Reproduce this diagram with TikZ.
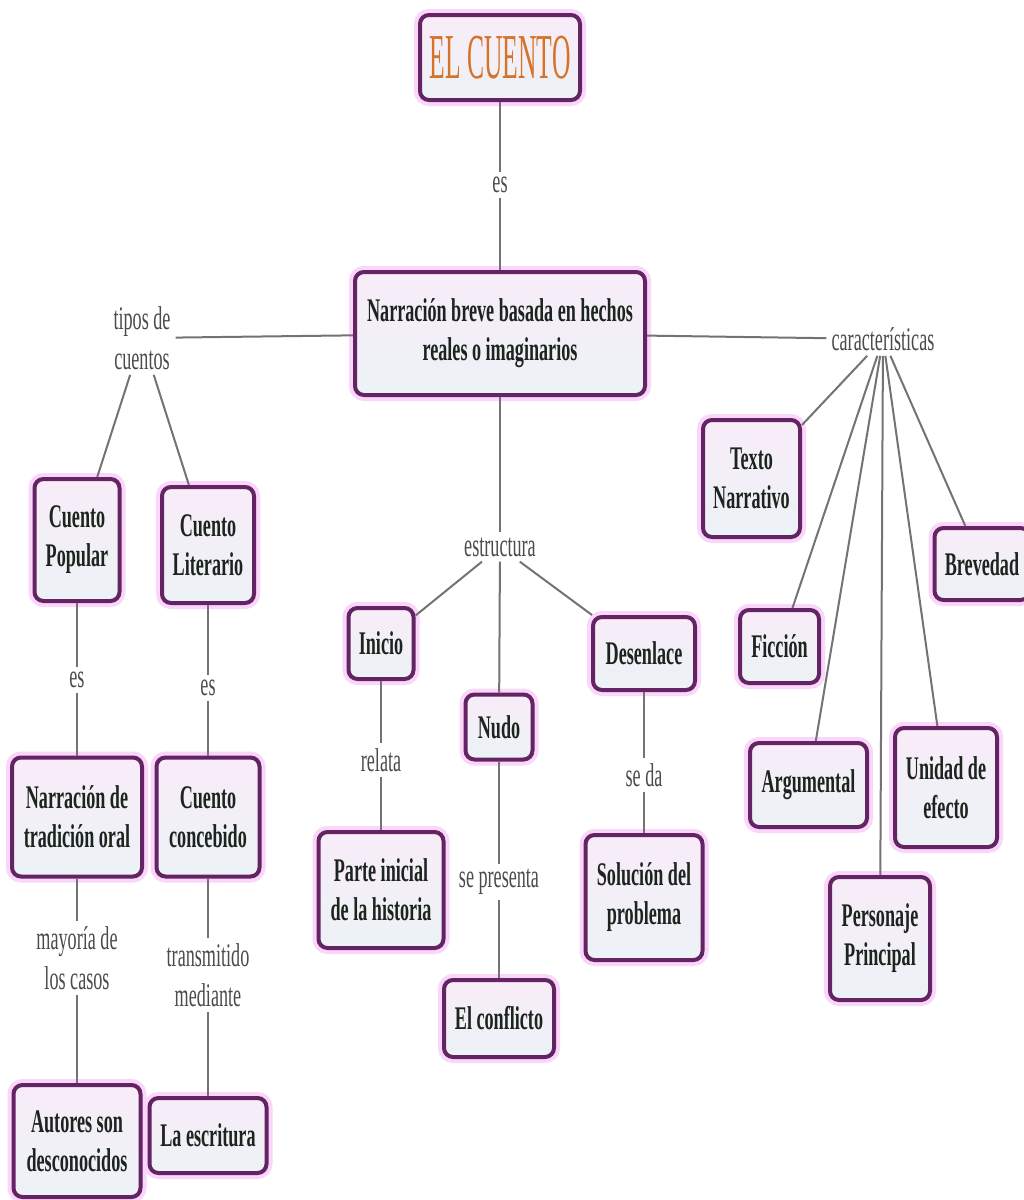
\documentclass[tikz,border=0pt]{standalone}
\usepackage{fontspec}
\setmainfont{Liberation Serif}[FakeStretch=0.55]
\newfontfamily\titlefont{Liberation Serif}[FakeStretch=0.4]
\definecolor{boxborder}{RGB}{100,36,100}
\definecolor{glow}{RGB}{250,215,250}
\definecolor{boxtop}{RGB}{248,236,248}
\definecolor{boxbot}{RGB}{236,242,246}
\definecolor{boxtext}{RGB}{28,36,30}
\definecolor{linkgray}{RGB}{75,75,75}
\definecolor{linegray}{RGB}{115,115,115}
\definecolor{titleorange}{RGB}{215,115,40}
\tikzset{
  concept/.style={draw=boxborder, line width=4pt, rounded corners=9pt,
    top color=boxtop, bottom color=boxbot,
    preaction={draw=glow, line width=12pt},
    text=boxtext, font=\fontsize{33}{39}\selectfont\bfseries,
    align=center, inner sep=0pt},
  linklabel/.style={text=linkgray, font=\fontsize{33}{40}\selectfont,
    align=center, inner sep=5pt},
  conn/.style={draw=linegray, line width=2pt},
}
\begin{document}
\begin{tikzpicture}[x=1pt,y=-1pt]
\fill[white] (0,0) rectangle (1024,1200);
\useasboundingbox (0,0) rectangle (1024,1200);

% concepts
\node[concept, minimum width=160pt, minimum height=85pt,
  font=\titlefont\fontsize{64}{64}\selectfont, text=titleorange] (cuento) at (500,57.5) {EL CUENTO};
\node[concept, minimum width=290pt, minimum height=123pt] (main) at (500,333.5)
  {Narración breve basada en hechos\\reales o imaginarios};

\node[concept, minimum width=85pt, minimum height=122pt] (popular) at (77,540) {Cuento\\Popular};
\node[concept, minimum width=92pt, minimum height=116pt] (literario) at (208,545) {Cuento\\Literario};
\node[concept, minimum width=130pt, minimum height=119pt] (tradicion) at (77,817) {Narración de\\tradición oral};
\node[concept, minimum width=103pt, minimum height=119pt] (concebido) at (208,817) {Cuento\\concebido};
\node[concept, minimum width=127pt, minimum height=112pt] (autores) at (77,1141) {Autores son\\desconocidos};
\node[concept, minimum width=117pt, minimum height=75pt] (escritura) at (208,1135.5) {La escritura};

\node[concept, minimum width=65pt, minimum height=71pt] (inicio) at (381,643.5) {Inicio};
\node[concept, minimum width=67pt, minimum height=65pt] (nudo) at (499,727) {Nudo};
\node[concept, minimum width=102pt, minimum height=73pt] (desenlace) at (644,653.5) {Desenlace};
\node[concept, minimum width=125pt, minimum height=116pt] (parte) at (381,890) {Parte inicial\\de la historia};
\node[concept, minimum width=110pt, minimum height=77pt] (conflicto) at (499,1018.5) {El conflicto};
\node[concept, minimum width=117pt, minimum height=125pt] (solucion) at (644,897.5) {Solución del\\problema};

\node[concept, minimum width=97pt, minimum height=117pt] (texto) at (751.5,478.5) {Texto\\Narrativo};
\node[concept, minimum width=95pt, minimum height=72pt] (brevedad) at (982,564) {Brevedad};
\node[concept, minimum width=79pt, minimum height=73pt] (ficcion) at (779.5,646.5) {Ficción};
\node[concept, minimum width=117pt, minimum height=84pt] (argumental) at (808.5,785) {Argumental};
\node[concept, minimum width=102pt, minimum height=119pt] (unidad) at (946,787.5) {Unidad de\\efecto};
\node[concept, minimum width=100pt, minimum height=123pt] (personaje) at (880,938.5) {Personaje\\Principal};

% linking phrases
\node[linklabel] (es0) at (500,185) {es};
\node[linklabel] (tipos) at (142,338) {tipos de\\cuentos};
\node[linklabel] (caract) at (883,339) {características};
\node[linklabel] (es1) at (77,680) {es};
\node[linklabel] (es2) at (208,688) {es};
\node[linklabel] (mayoria) at (77,958) {mayoría de\\los casos};
\node[linklabel] (transmitido) at (208,975) {transmitido\\mediante};
\node[linklabel] (estructura) at (500,547) {estructura};
\node[linklabel] (relata) at (381,760) {relata};
\node[linklabel] (sepresenta) at (499,882) {se presenta};
\node[linklabel] (seda) at (644,775) {se da};

% connectors
\draw[conn] (cuento) -- (es0);
\draw[conn] (es0) -- (main);
\draw[conn] (main) -- (tipos);
\draw[conn] (main) -- (caract);
\draw[conn] (main) -- (estructura);

\draw[conn] (tipos) -- (popular);
\draw[conn] (tipos) -- (literario);
\draw[conn] (popular) -- (es1);
\draw[conn] (es1) -- (tradicion);
\draw[conn] (tradicion) -- (mayoria);
\draw[conn] (mayoria) -- (autores);
\draw[conn] (literario) -- (es2);
\draw[conn] (es2) -- (concebido);
\draw[conn] (concebido) -- (transmitido);
\draw[conn] (transmitido) -- (escritura);

\draw[conn] (estructura) -- (inicio);
\draw[conn] (estructura) -- (nudo);
\draw[conn] (estructura) -- (desenlace);
\draw[conn] (inicio) -- (relata);
\draw[conn] (relata) -- (parte);
\draw[conn] (nudo) -- (sepresenta);
\draw[conn] (sepresenta) -- (conflicto);
\draw[conn] (desenlace) -- (seda);
\draw[conn] (seda) -- (solucion);

\draw[conn] (caract) -- (texto);
\draw[conn] (caract) -- (ficcion);
\draw[conn] (caract) -- (argumental);
\draw[conn] (caract) -- (personaje);
\draw[conn] (caract) -- (unidad);
\draw[conn] (caract) -- (brevedad);
\end{tikzpicture}
\end{document}
